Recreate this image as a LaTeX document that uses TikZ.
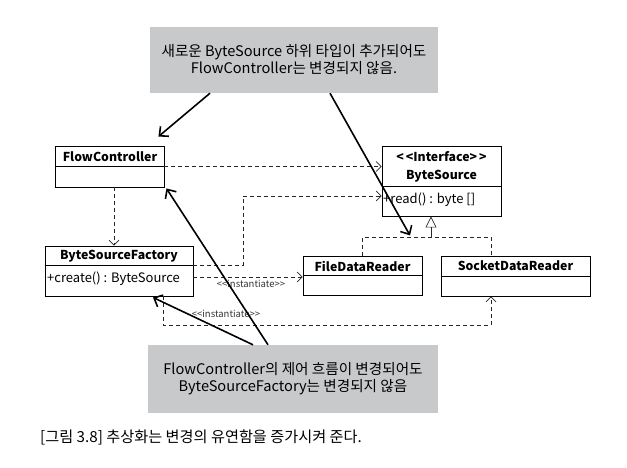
\documentclass[tikz,border=0pt]{standalone}
\usepackage{fontspec}
\setmainfont{Noto Sans CJK KR}
\usetikzlibrary{arrows.meta,calc}
\definecolor{callgray}{RGB}{200,201,203}
\begin{document}
\begin{tikzpicture}[x=1pt,y=-1pt,
  umlbox/.style={draw=black,line width=0.9pt,inner sep=0pt,fill=white},
  sepline/.style={draw=black,line width=0.9pt},
  ttl/.style={font=\bfseries\fontsize{12.3}{14}\selectfont,inner sep=0pt},
  meth/.style={font=\fontsize{13}{15}\selectfont,inner sep=0pt,anchor=west},
  dep/.style={draw=black!85,line width=0.7pt,dash pattern=on 4pt off 3pt,-{Straight Barb[length=5pt,width=10pt]}},
  real/.style={draw=black!85,line width=0.7pt,dash pattern=on 4pt off 3pt},
  stereo/.style={font=\fontsize{9.5}{11}\selectfont,inner sep=0pt,text=black!80},
  callout/.style={fill=callgray,inner sep=0pt,align=center,font=\fontsize{14.6}{17}\selectfont},
  big/.style={draw=black,line width=1.6pt,-{Straight Barb[length=7pt,width=13pt]}}
]
\useasboundingbox (0,0) rectangle (627,468);
\fill[white] (0,0) rectangle (627,468);

% callouts
\node[callout,minimum width=288pt,minimum height=66pt] (t) at (294,60)
  {새로운 ByteSource 하위 타입이 추가되어도\\FlowController는 변경되지 않음.};
\node[callout,minimum width=290pt,minimum height=68pt] (b) at (293,379)
  {FlowController의 제어 흐름이 변경되어도\\ByteSourceFactory는 변경되지 않음};

% class boxes
\node[umlbox,minimum width=109pt,minimum height=41pt] (fc) at (109.5,166.5) {};
\draw[sepline] (fc.west) -- (fc.east);
\node[ttl] (fct) at (110,157) {FlowController};

\node[umlbox,minimum width=119pt,minimum height=70pt] (bs) at (441.5,181) {};
\draw[sepline] ([yshift=-5pt]bs.west) -- ([yshift=-5pt]bs.east);
\node[ttl] (bst1) at (441.5,157) {<\,<Interface>\,>};
\node[ttl] (bst2) at (441.5,176) {ByteSource};
\node[meth] (bsm) at (383,200) {+read() : byte []};

\node[umlbox,minimum width=148pt,minimum height=50pt] (bsf) at (119,271) {};
\draw[sepline] ([yshift=6pt]bsf.west) -- ([yshift=6pt]bsf.east);
\node[ttl] (bsft) at (119,256) {ByteSourceFactory};
\node[meth] (bsfm) at (47,279) {+create() : ByteSource};

\node[umlbox,minimum width=119pt,minimum height=39pt] (fdr) at (362.5,275.5) {};
\draw[sepline] (fdr.west) -- (fdr.east);
\node[ttl] (fdrt) at (362.5,266) {FileDataReader};

\node[umlbox,minimum width=149pt,minimum height=40pt] (sdr) at (515.5,276) {};
\draw[sepline] (sdr.west) -- (sdr.east);
\node[ttl] (sdrt) at (515.5,266) {SocketDataReader};

% dependencies
\draw[dep] (fc.east) -- (fc.east -| bs.west);
\coordinate (fcs) at ([xshift=4.5pt]fc.south);
\draw[dep] (fcs) -- (fcs |- bsf.north);
\coordinate (bsfa) at ([yshift=6pt]bsf.east);
\coordinate (bsin) at ([yshift=-15pt]bs.west);
\coordinate (kx) at (243,0);
\draw[dep] (bsfa) -- (bsfa -| kx) -- (kx |- bsin) -- (bsin);
\coordinate (bsfb) at ([yshift=-6pt]bsf.east);
\draw[dep] (bsfb) -- (bsfb -| fdr.west);
\node[stereo] (st1) at (251,284) {<{}<instantiate>{}>};
\coordinate (bsfs) at ([xshift=44pt]bsf.south);
\coordinate (low) at (0,325);
\coordinate (sdrs) at ([xshift=-24.5pt]sdr.south);
\draw[dep] (bsfs) -- (bsfs |- low) -- (sdrs |- low) -- (sdrs);
\node[stereo] (st2) at (226,314) {<{}<instantiate>{}>};

% realization
\coordinate (mid) at (0,237);
\coordinate (sdrn) at ([xshift=-24.5pt]sdr.north);
\coordinate (bsb) at ([xshift=-10.5pt]bs.south);
\draw[real] (fdr.north) -- (fdr.north |- mid) -- (sdrn |- mid) -- (sdrn);
\draw[draw=black!85,line width=0.7pt,-{Triangle[open,length=11pt,width=11pt]}] (bsb |- mid) -- (bsb);

% big arrows
\draw[big] ([xshift=-84pt]t.south) -- ([shift={(-6pt,9pt)}]fc.north east);
\draw[big] ([xshift=36pt]t.south) -- ([shift={(-31.5pt,-19pt)}]bs.south);
\draw[big] ([xshift=-25pt]b.north) -- ([shift={(2pt,-1pt)}]fc.south east);
\draw[big] ([xshift=-40pt]b.north) -- ([shift={(34pt,-1pt)}]bsf.south);

% caption
\node[anchor=west,inner sep=0pt,font=\fontsize{15.2}{17}\selectfont] (cap) at (40,437)
  {[그림 3.8] 추상화는 변경의 유연함을 증가시켜 준다.};
\end{tikzpicture}
\end{document}
